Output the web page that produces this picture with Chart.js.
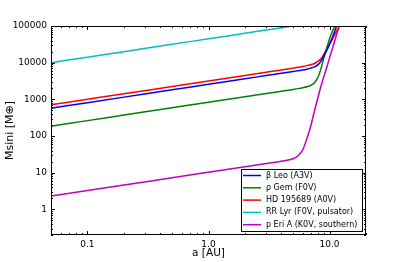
<!DOCTYPE html>
<html><head><meta charset="utf-8">
<script src="https://cdn.jsdelivr.net/npm/chart.js@4.4.1/dist/chart.umd.min.js"></script>
<style>html,body{margin:0;padding:0;background:#fff;}#wrap{width:407px;height:262px;position:relative;}</style>
</head><body><div id="wrap"><canvas id="c"></canvas></div>
<script>
// Semi-major axis a [AU] (shared sampling points)
const semiMajorAxisAU = [0.05, 0.1, 0.2, 0.5, 1, 2, 3, 4, 5, 5.5, 6, 6.5, 7, 7.5, 8, 8.5, 9, 9.5, 10, 10.5, 11, 11.5, 12, 12.5, 13];
// Minimum detectable M sin i [M_earth] per star
const betaLeo  = [575, 813, 1150, 1820, 2570, 3640, 4450, 5140, 5750, 6030, 6300, 6650, 7100, 7700, 8700, 11000, 15500, 22000, 32000, 47000, 70000, 103000, 150000, 210000, 290000];
const rhoGem   = [186, 263, 372, 588, 832, 1180, 1440, 1660, 1860, 1960, 2070, 2200, 2400, 2850, 3900, 7000, 14000, 26000, 45000, 68000, 97000, 140000, 200000, 290000, 400000];
const hd195689 = [708, 1000, 1420, 2240, 3170, 4480, 5480, 6330, 7100, 7450, 7850, 8300, 8800, 9500, 10800, 12800, 17000, 23500, 31500, 42000, 57000, 75000, 96000, 125000, 165000];
const rrLyr    = [10000, 14140, 20000, 31600, 44700, 63200, 77500, 89400, 100000, 105000, 110000, null, null, null, null, null, null, null, null, null, null, null, null, null, null];
const pEriA    = [2.3, 3.25, 4.6, 7.3, 10.3, 14.5, 17.8, 20.5, 24, 29, 42, 85, 190, 480, 1100, 2300, 4300, 7600, 13500, 23000, 38000, 63000, 95000, 140000, 200000];

const seriesLabels = ["β Leo (A3V)", "ρ Gem (F0V)", "HD 195689 (A0V)", "RR Lyr (F0V, pulsator)", "p Eri A (K0V, southern)"];
const seriesValues = [betaLeo, rhoGem, hd195689, rrLyr, pEriA];
const seriesColors = ["#0000ff", "#008000", "#ff0000", "#00bfbf", "#bf00bf"];

const xTickValues = [0.1, 1, 10];
const yTickValues = [1, 10, 100, 1000, 10000, 100000];

const FONT = "'DejaVu Sans', sans-serif";

const datasets = seriesValues.map((vals, i) => ({
  label: seriesLabels[i],
  data: semiMajorAxisAU.map((a, j) => ({x: a, y: vals[j]})),
  borderColor: seriesColors[i],
  backgroundColor: seriesColors[i],
  borderWidth: 1.5,
  pointRadius: 0,
  fill: false,
  spanGaps: false,
  cubicInterpolationMode: 'monotone'
}));

function drawLogTicks(ctx, scale, horizontal, a0, a1, min, max) {
  const k0 = Math.floor(Math.log10(min)), k1 = Math.ceil(Math.log10(max));
  for (let k = k0; k <= k1; k++) {
    for (let m = 1; m <= 9; m++) {
      const v = m * Math.pow(10, k);
      if (v < min * 0.999 || v > max * 1.001) continue;
      const p = Math.round(scale.getPixelForValue(v)) + 0.5;
      const len = m === 1 ? 4 : 2;
      ctx.beginPath();
      if (horizontal) {
        ctx.moveTo(p, a0); ctx.lineTo(p, a0 - len);
        ctx.moveTo(p, a1); ctx.lineTo(p, a1 + len);
      } else {
        ctx.moveTo(a0, p); ctx.lineTo(a0 + len, p);
        ctx.moveTo(a1, p); ctx.lineTo(a1 - len, p);
      }
      ctx.stroke();
    }
  }
}

const framePlugin = {
  id: 'framePlugin',
  afterDatasetsDraw(chart) {
    const {ctx, chartArea: ca, scales: {x, y}} = chart;
    ctx.save();
    ctx.strokeStyle = '#000';
    ctx.lineWidth = 1;
    ctx.strokeRect(ca.left + 0.5, ca.top + 0.5, ca.right - ca.left - 1, ca.bottom - ca.top - 1);
    drawLogTicks(ctx, x, true, ca.bottom, ca.top, x.min, x.max);
    drawLogTicks(ctx, y, false, ca.left, ca.right, y.min, y.max);
    ctx.restore();
  },
  afterDraw(chart) {
    const {ctx, chartArea: ca} = chart;
    const w = 121, h = 62;
    const bx = ca.right - 4 - w, by = ca.bottom - 4 - h;
    ctx.save();
    ctx.fillStyle = '#fff';
    ctx.fillRect(bx, by, w, h);
    ctx.strokeStyle = '#000';
    ctx.lineWidth = 1;
    ctx.strokeRect(Math.round(bx) + 0.5, Math.round(by) + 0.5, w, h);
    ctx.font = "8px " + FONT;
    ctx.textBaseline = 'middle';
    ctx.textAlign = 'left';
    chart.data.datasets.forEach((ds, i) => {
      const ry = by + 6.5 + i * 12.3;
      ctx.strokeStyle = ds.borderColor;
      ctx.lineWidth = 1.5;
      ctx.beginPath();
      ctx.moveTo(bx + 2, ry); ctx.lineTo(bx + 20, ry);
      ctx.stroke();
      ctx.fillStyle = '#000';
      ctx.fillText(ds.label, bx + 25, ry);
    });
    ctx.restore();
  }
};

new Chart(document.getElementById('c'), {
  type: 'line',
  data: {datasets},
  options: {
    responsive: true,
    maintainAspectRatio: false,
    animation: false,
    devicePixelRatio: 1,
    layout: {padding: {top: 26, right: 41, left: 0, bottom: 0}},
    plugins: {legend: {display: false}, tooltip: {enabled: false}, title: {display: false}},
    scales: {
      x: {
        type: 'logarithmic', min: 0.05, max: 20,
        grid: {display: false, drawTicks: false},
        border: {display: false},
        afterBuildTicks: s => { s.ticks = xTickValues.map(v => ({value: v})); },
        afterFit: s => { s.height = 27; },
        ticks: {autoSkip: false, maxRotation: 0, padding: 4, color: '#000',
          font: {family: FONT, size: 9}, callback: v => Number(v).toFixed(1)},
        title: {display: true, text: 'a [AU]', color: '#000', font: {family: FONT, size: 10.5}, padding: {top: 0, bottom: 2}}
      },
      y: {
        type: 'logarithmic', min: 0.2, max: 100000,
        grid: {display: false, drawTicks: false},
        border: {display: false},
        afterBuildTicks: s => { s.ticks = yTickValues.map(v => ({value: v})); },
        afterFit: s => { s.width = 51; },
        ticks: {autoSkip: false, padding: 4, color: '#000',
          font: {family: FONT, size: 9}, callback: v => String(Number(v))},
        title: {display: true, text: 'Msini [M⊕]', color: '#000', font: {family: FONT, size: 11}, padding: {top: 4, bottom: 0}}
      }
    }
  },
  plugins: [framePlugin]
});
</script></body></html>
